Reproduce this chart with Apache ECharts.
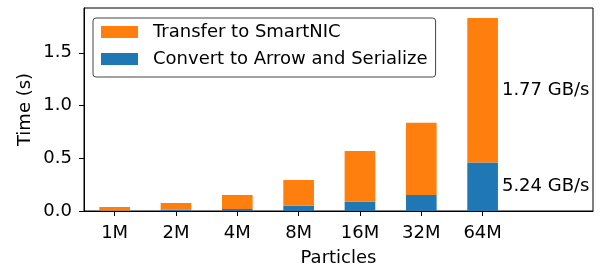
<!DOCTYPE html>
<html>
<head>
<meta charset="utf-8">
<script src="https://cdn.jsdelivr.net/npm/echarts@6/dist/echarts.min.js"></script>
<style>
  html, body { margin: 0; padding: 0; background: #fff; }
  #chart { width: 611px; height: 268px; }
</style>
</head>
<body>
<div id="chart"></div>
<script>
const categories = ['1M', '2M', '4M', '8M', '16M', '32M', '64M'];
const convertTimes = [0.003, 0.012, 0.019, 0.05, 0.088, 0.152, 0.459];
const transferTimes = [0.035, 0.064, 0.133, 0.244, 0.482, 0.684, 1.371];
const convertRate = '5.24 GB/s';
const transferRate = '1.77 GB/s';
const yTicks = [0, 0.5, 1.0, 1.5];

const font = 'DejaVu Sans';
const lastIdx = categories.length - 1;

// plot frame is wider than the 7 bars (xlim goes to 7.8), so the bars get
// their own grid of 7 bands and a second empty grid draws the full frame
const frame = {left: 84, right: 18, top: 8, bottom: 57};
const band = (611 - frame.left - frame.right) / 8.3;

function toData(values, rate) {
  return values.map((v, i) => {
    if (i !== lastIdx) return v;
    return {
      value: v,
      label: {
        show: true, position: 'right', distance: 4, formatter: rate,
        color: '#000', fontFamily: font, fontSize: 18
      }
    };
  });
}

let myEchart = echarts.init(document.getElementById('chart'), null, {renderer: 'canvas'});
myEchart.setOption({
  animation: false,
  textStyle: {fontFamily: font},
  grid: [
    {
      left: frame.left, top: frame.top, bottom: frame.bottom,
      width: band * categories.length,
      containLabel: false, outerBoundsMode: 'none'
    },
    {
      left: frame.left, right: frame.right, top: frame.top, bottom: frame.bottom,
      containLabel: false, outerBoundsMode: 'none',
      show: true, borderColor: '#000', borderWidth: 1, backgroundColor: 'transparent'
    }
  ],
  legend: {
    orient: 'vertical',
    left: 93, top: 18,
    data: ['Transfer to SmartNIC', 'Convert to Arrow and Serialize'],
    itemWidth: 37, itemHeight: 12, itemGap: 9,
    icon: 'rect',
    padding: [5, 8, 9, 8],
    borderColor: '#444', borderWidth: 1, borderRadius: 3,
    textStyle: {fontFamily: font, fontSize: 18, color: '#000', lineHeight: 18, padding: [0, 0, 0, 10]}
  },
  xAxis: [
    {
      type: 'category', gridIndex: 0,
      data: categories,
      boundaryGap: true,
      axisLine: {show: true, lineStyle: {color: '#000', width: 1}},
      axisTick: {show: true, length: 5, alignWithLabel: true, lineStyle: {color: '#000'}},
      axisLabel: {margin: 13, fontFamily: font, fontSize: 18, color: '#000'}
    },
    {
      type: 'value', gridIndex: 1, min: 0, max: 1,
      name: 'Particles', nameLocation: 'middle', nameGap: 38, nameMoveOverlap: false,
      nameTextStyle: {fontFamily: font, fontSize: 18, color: '#000'},
      axisLine: {show: true, lineStyle: {color: '#000', width: 1}},
      axisTick: {show: false}, axisLabel: {show: false}, splitLine: {show: false}
    }
  ],
  yAxis: [
    {
      type: 'value', gridIndex: 0,
      min: 0, max: 1.925,
      name: 'Time (s)', nameLocation: 'middle', nameGap: 50, nameRotate: 90,
      nameMoveOverlap: false,
      nameTextStyle: {fontFamily: font, fontSize: 18, color: '#000'},
      splitLine: {show: false},
      axisLine: {show: true, lineStyle: {color: '#000', width: 1}},
      axisTick: {show: true, length: 5, lineStyle: {color: '#000'}, customValues: yTicks},
      axisLabel: {
        customValues: yTicks, margin: 12,
        formatter: v => v.toFixed(1),
        fontFamily: font, fontSize: 18, color: '#000'
      }
    },
    {
      type: 'value', gridIndex: 1, min: 0, max: 1,
      axisLine: {show: false}, axisTick: {show: false},
      axisLabel: {show: false}, splitLine: {show: false}
    }
  ],
  series: [
    {
      name: 'Convert to Arrow and Serialize',
      type: 'bar', stack: 'total', barWidth: '50%',
      xAxisIndex: 0, yAxisIndex: 0,
      itemStyle: {color: '#1f77b4'},
      data: toData(convertTimes, convertRate)
    },
    {
      name: 'Transfer to SmartNIC',
      type: 'bar', stack: 'total', barWidth: '50%',
      xAxisIndex: 0, yAxisIndex: 0,
      itemStyle: {color: '#ff7f0e'},
      data: toData(transferTimes, transferRate)
    }
  ]
});
</script>
</body>
</html>
